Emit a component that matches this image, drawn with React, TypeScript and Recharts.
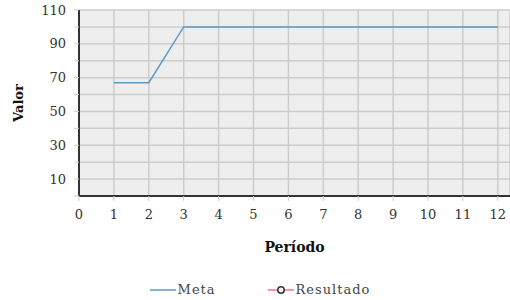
import { LineChart, Line, XAxis, YAxis, CartesianGrid, Legend } from 'recharts';

const periodos = [1, 2, 3, 4, 5, 6, 7, 8, 9, 10, 11, 12];
const meta = [67, 67, 100, 100, 100, 100, 100, 100, 100, 100, 100, 100];
const resultado: (number | null)[] = [null, null, null, null, null, null, null, null, null, null, null, null];
const xTicks = [0, 1, 2, 3, 4, 5, 6, 7, 8, 9, 10, 11, 12];
const yTicks = [0, 10, 20, 30, 40, 50, 60, 70, 80, 90, 100, 110];
const yLabeled = [10, 30, 50, 70, 90, 110];

const data = periodos.map((p, i) => ({ periodo: p, meta: meta[i], resultado: resultado[i] }));

const FONT = '"DejaVu Serif", serif';

const LegendBox = () => (
  <div style={{ paddingTop: 26, paddingLeft: 10, display: 'flex', justifyContent: 'center', gap: 52, fontFamily: FONT, fontSize: 13, color: '#444', letterSpacing: 1 }}>
    <span style={{ display: 'flex', alignItems: 'center' }}>
      <svg width={26} height={10}>
        <line x1={0} y1={5} x2={26} y2={5} stroke="#5b9bc4" strokeWidth={1.5} />
      </svg>
      <span style={{ marginLeft: 2 }}>Meta</span>
    </span>
    <span style={{ display: 'flex', alignItems: 'center' }}>
      <svg width={26} height={10}>
        <line x1={0} y1={5} x2={26} y2={5} stroke="#ff6b8e" strokeWidth={1.5} />
        <circle cx={13} cy={5} r={3.2} fill="#fff" stroke="#333" strokeWidth={1.5} />
      </svg>
      <span style={{ marginLeft: 2 }}>Resultado</span>
    </span>
  </div>
);

export default function App() {
  return (
    <div style={{ position: 'absolute', left: 0, top: 0, width: 510, height: 300, background: '#fff' }}>
      <LineChart width={510} height={300} data={data} margin={{ top: 10, right: 0, left: 0, bottom: 0 }}>
        <CartesianGrid stroke="#cccccc" strokeWidth={1.5} fill="#eeeeee" fillOpacity={1} />
        <XAxis
          type="number"
          dataKey="periodo"
          domain={[0, 12.35]}
          ticks={xTicks}
          allowDataOverflow
          height={60}
          axisLine={{ stroke: '#333', strokeWidth: 2 }}
          tickLine={{ stroke: '#ccc' }}
          tickSize={5}
          tickMargin={9}
          tick={{ fontFamily: FONT, fontSize: 13, fill: '#333' }}
          label={{ value: 'Período', position: 'insideBottom', offset: 4, style: { fontFamily: FONT, fontSize: 14, fontWeight: 'bold', fill: '#111' } }}
        />
        <YAxis
          type="number"
          domain={[0, 110]}
          ticks={yTicks}
          width={79}
          axisLine={{ stroke: '#333', strokeWidth: 2 }}
          tickLine={{ stroke: '#ccc' }}
          tickSize={5}
          tickMargin={8}
          tickFormatter={(v: number) => (yLabeled.includes(v) ? String(v) : '')}
          tick={{ fontFamily: FONT, fontSize: 13, fill: '#333' }}
          label={{ value: 'Valor', angle: -90, position: 'insideLeft', offset: 18, style: { fontFamily: FONT, fontSize: 13, fontWeight: 'bold', fill: '#111', textAnchor: 'middle' } }}
        />
        <Legend verticalAlign="bottom" height={44} content={<LegendBox />} />
        <Line type="linear" dataKey="meta" stroke="#5b9bc4" strokeWidth={1.5} dot={false} isAnimationActive={false} name="Meta" />
        <Line type="linear" dataKey="resultado" stroke="#ff6b8e" strokeWidth={1.5} dot={{ r: 3, fill: '#fff', stroke: '#333' }} isAnimationActive={false} name="Resultado" />
      </LineChart>
    </div>
  );
}
